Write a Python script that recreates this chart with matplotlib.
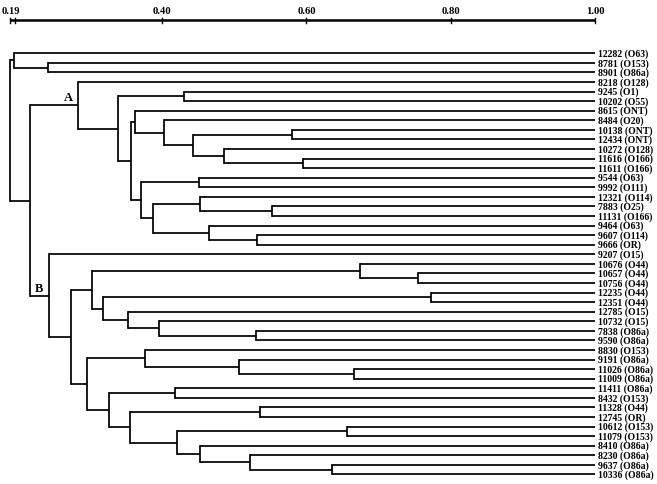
import matplotlib
matplotlib.use("Agg")
import matplotlib.pyplot as plt

# ---------------- data ----------------
leaf_labels = [
    "12282 (O63)", "8781 (O153)", "8901 (O86a)", "8218 (O128)", "9245 (O1)",
    "10202 (O55)", "8615 (ONT)", "8484 (O20)", "10138 (ONT)", "12434 (ONT)",
    "10272 (O128)", "11616 (O166)", "11611 (O166)", "9544 (O63)", "9992 (O111)",
    "12321 (O114)", "7883 (O25)", "11131 (O166)", "9464 (O63)", "9607 (O114)",
    "9666 (OR)", "9207 (O15)", "10676 (O44)", "10657 (O44)", "10756 (O44)",
    "12235 (O44)", "12351 (O44)", "12785 (O15)", "10732 (O15)", "7838 (O86a)",
    "9590 (O86a)", "8830 (O153)", "9191 (O86a)", "11026 (O86a)", "11009 (O86a)",
    "11411 (O86a)", "8432 (O153)", "11328 (O44)", "12745 (OR)", "10612 (O153)",
    "11079 (O153)", "8410 (O86a)", "8230 (O86a)", "9637 (O86a)", "10336 (O86a)",
]

# merges: (child_a, child_b, similarity); ints = leaf index, "mK" = K-th merge
merge_a = [1, 0, 4, 8, 11, 10, "m3", 7, 6, 13, 16, 15, 19, 18, "m11", "m9", "m8", "m2", 3,
           23, 22, 25, 29, 28, 27, "m21", "m20", 33, 32, 31, 35, 37, 39, 43, 42, 41, "m32",
           "m31", "m30", "m29", "m26", 21, "m18", "m1"]
merge_b = [2, "m0", 5, 9, 12, "m4", "m5", "m6", "m7", 14, 17, "m10", 20, "m12", "m13", "m14",
           "m15", "m16", "m17", 24, "m19", 26, 30, "m22", "m23", "m24", "m25", 34, "m27",
           "m28", 36, 38, 40, 44, "m33", "m34", "m35", "m36", "m37", "m38", "m39", "m40",
           "m41", "m42"]
merge_sim = [0.242, 0.195, 0.430, 0.580, 0.595, 0.486, 0.443, 0.403, 0.363, 0.451, 0.553,
             0.453, 0.532, 0.465, 0.388, 0.371, 0.357, 0.339, 0.284, 0.755, 0.674, 0.773,
             0.530, 0.396, 0.353, 0.318, 0.303, 0.666, 0.507, 0.376, 0.418, 0.536, 0.656,
             0.635, 0.522, 0.453, 0.421, 0.356, 0.327, 0.296, 0.274, 0.243, 0.217, 0.190]

scale_ticks = [0.19, 0.40, 0.60, 0.80, 1.00]
scale_labels = ["0.19", "0.40", "0.60", "0.80", "1.00"]
cluster_names = {"m18": "A", "m41": "B"}

# ---------------- layout ----------------
W, H = 657, 484
fig = plt.figure(figsize=(W / 100, H / 100), dpi=100)
ax = fig.add_axes([0, 0, 1, 1])
ax.axis("off")

# pixel <-> data mapping
px_per_unit = 722.0
x_at_040 = 162.0
y0, dy = 53.3, 9.57
ax.set_xlim(0.40 - x_at_040 / px_per_unit, 0.40 + (W - x_at_040) / px_per_unit)
ax.set_ylim((H - y0) / dy, -y0 / dy)

FONT = "Liberation Serif"
lw = 1.25
leaf_x = 1.0

pos = {}  # node -> (x, y)
for i in range(len(leaf_labels)):
    pos[i] = (leaf_x, float(i))

for k, (a, b, s) in enumerate(zip(merge_a, merge_b, merge_sim)):
    xa, ya = pos[a]
    xb, yb = pos[b]
    ym = (ya + yb) / 2
    ax.plot([s, s], [ya, yb], color="black", lw=lw, solid_capstyle="projecting")
    ax.plot([s, xa], [ya, ya], color="black", lw=lw, solid_capstyle="butt")
    ax.plot([s, xb], [yb, yb], color="black", lw=lw, solid_capstyle="butt")
    pos["m%d" % k] = (s, ym)

for i, lab in enumerate(leaf_labels):
    ax.text(leaf_x + 0.0035, i + 0.1, lab, ha="left", va="center", fontsize=7.0,
            fontfamily=FONT, fontweight="bold")

# cluster letters A / B, placed just left of their node, above the branch
for node, name in cluster_names.items():
    xn, yn = pos[node]
    ax.text(xn - 10 / px_per_unit, yn - 0.72, name, ha="center", va="center",
            fontsize=9, fontfamily=FONT, fontweight="bold")

# scale bar on top
y_bar = (20 - y0) / dy
y_tick_lo = (17.5 - y0) / dy
y_tick_hi = (22.5 - y0) / dy
y_lab = (11.5 - y0) / dy
ax.plot([scale_ticks[0], scale_ticks[-1]], [y_bar, y_bar], color="black", lw=1.8,
        solid_capstyle="butt")
for t, lab in zip(scale_ticks, scale_labels):
    ax.plot([t, t], [y_tick_lo, y_tick_hi], color="black", lw=1.0)
    ax.text(t, y_lab, lab, ha="center", va="center", fontsize=7.7,
            fontfamily=FONT, fontweight="bold")
ax.plot([scale_ticks[0] + 0.007] * 2, [y_tick_lo, y_tick_hi], color="black", lw=1.0)

fig.savefig("out.png", dpi=100, facecolor="white")
